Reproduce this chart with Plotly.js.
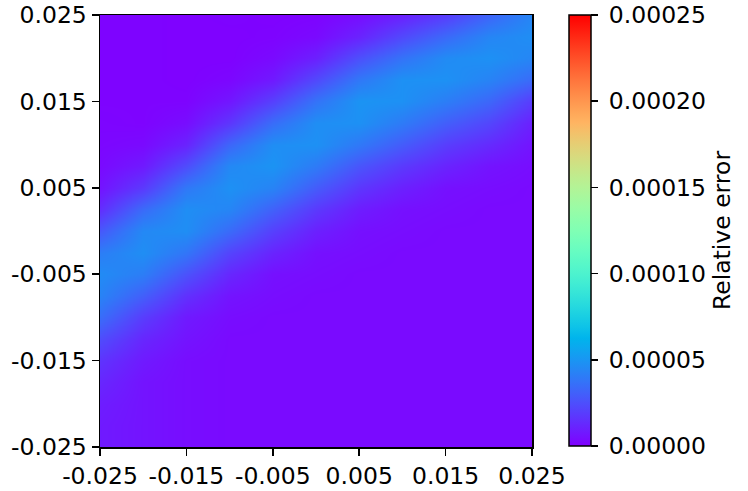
<!DOCTYPE html>
<html>
<head>
<meta charset="utf-8">
<script src="https://cdn.plot.ly/plotly-3.0.1.min.js"></script>
<style>
  html, body { margin: 0; padding: 0; background: #fff; }
  #chart { width: 748px; height: 491px; }
</style>
</head>
<body>
<div id="chart"></div>
<script>
// grid positions
const xs = [-0.025, -0.02, -0.015, -0.01, -0.005, 0, 0.005, 0.01, 0.015, 0.02, 0.025];
const ys = [-0.025, -0.0225, -0.02, -0.0175, -0.015, -0.0125, -0.01, -0.0075, -0.005, -0.0025, 0,
            0.0025, 0.005, 0.0075, 0.01, 0.0125, 0.015, 0.0175, 0.02, 0.0225, 0.025];

// relative error, in units of 1e-5, one row per y value (bottom to top), one column per x
const errRows = [
  [0.8, 0.6, 0.4, 0.3, 0.3, 0.3, 0.3, 0.3, 0.3, 0.3, 0.3],
  [0.8, 0.6, 0.4, 0.3, 0.3, 0.3, 0.3, 0.3, 0.3, 0.3, 0.3],
  [0.9, 0.6, 0.4, 0.3, 0.3, 0.3, 0.3, 0.3, 0.3, 0.3, 0.3],
  [1.2, 0.6, 0.4, 0.3, 0.3, 0.3, 0.3, 0.3, 0.3, 0.3, 0.3],
  [1.6, 0.8, 0.4, 0.3, 0.3, 0.3, 0.3, 0.3, 0.3, 0.3, 0.3],
  [2.4, 1.2, 0.6, 0.3, 0.3, 0.3, 0.3, 0.3, 0.3, 0.3, 0.3],
  [3.5, 1.9, 0.8, 0.4, 0.3, 0.3, 0.3, 0.3, 0.3, 0.3, 0.3],
  [4.3, 3.0, 1.5, 0.6, 0.4, 0.3, 0.3, 0.3, 0.3, 0.3, 0.3],
  [4.6, 4.1, 2.6, 1.2, 0.5, 0.4, 0.3, 0.3, 0.3, 0.3, 0.3],
  [4.1, 4.7, 3.8, 2.1, 1.1, 0.5, 0.4, 0.3, 0.3, 0.3, 0.3],
  [2.8, 4.5, 4.7, 3.4, 2.0, 1.0, 0.5, 0.4, 0.3, 0.3, 0.3],
  [1.4, 3.4, 4.7, 4.4, 3.1, 1.8, 0.9, 0.5, 0.4, 0.3, 0.3],
  [0.6, 1.8, 3.9, 4.8, 4.3, 2.9, 1.7, 1.0, 0.5, 0.4, 0.3],
  [0.3, 0.8, 2.4, 4.5, 4.9, 4.0, 2.7, 1.8, 1.1, 0.6, 0.4],
  [0.2, 0.3, 1.1, 3.3, 4.7, 4.8, 3.9, 2.9, 1.9, 1.3, 0.6],
  [0.15, 0.1, 0.4, 1.7, 3.5, 4.7, 4.8, 4.0, 3.0, 2.2, 1.0],
  [0.1, 0.1, 0.1, 0.7, 2.0, 3.7, 4.9, 4.8, 4.1, 3.3, 1.9],
  [0.1, 0.1, 0.05, 0.2, 0.8, 2.3, 3.9, 4.8, 4.8, 4.3, 3.4],
  [0.1, 0.1, 0.05, 0.05, 0.3, 1.0, 2.5, 3.7, 4.6, 4.8, 4.4],
  [0.1, 0.1, 0.05, 0.05, 0.1, 0.3, 1.1, 2.3, 3.4, 4.4, 4.7],
  [0.1, 0.1, 0.05, 0.1, 0.05, 0.1, 0.4, 1.0, 1.9, 3.2, 4.4]
];

const axisTicks = [-0.025, -0.015, -0.005, 0.005, 0.015, 0.025];
const axisLabels = ['-0.025', '-0.015', '-0.005', '0.005', '0.015', '0.025'];
const cbTicks = [0, 0.00005, 0.0001, 0.00015, 0.0002, 0.00025];
const cbLabels = ['0.00000', '0.00005', '0.00010', '0.00015', '0.00020', '0.00025'];

// matplotlib "rainbow" colormap
function rainbow(n) {
  let scale = [];
  for (let i = 0; i <= n; i++) {
    let t = i / n;
    let r = Math.min(1, Math.abs(2 * t - 0.5));
    let g = Math.sin(Math.PI * t);
    let b = Math.max(0, Math.cos(Math.PI * t / 2));
    scale.push([t, `rgb(${Math.round(r * 255)},${Math.round(g * 255)},${Math.round(b * 255)})`]);
  }
  return scale;
}

const font = {family: 'DejaVu Sans', size: 23.5, color: '#000'};

const trace = {
  type: 'heatmap',
  x: xs,
  y: ys,
  z: errRows.map(row => row.map(v => v * 1e-5)),
  zmin: 0,
  zmax: 0.00025,
  zsmooth: 'best',
  colorscale: rainbow(40),
  hoverinfo: 'skip',
  colorbar: {
    thickness: 22,
    thicknessmode: 'pixels',
    len: 431,
    lenmode: 'pixels',
    x: 1.083,
    xanchor: 'left',
    y: 1,
    yanchor: 'top',
    xpad: 0,
    ypad: 0,
    outlinewidth: 1.5,
    outlinecolor: '#000',
    tickvals: cbTicks,
    // small leading space: matplotlib leaves a wider pad between tick and label
    ticktext: cbLabels.map(s => '\u2005' + s),
    ticks: 'outside',
    ticklen: 7,
    tickwidth: 1.5,
    tickcolor: '#000',
    tickfont: font,
    title: {text: 'Relative error', side: 'right', font: font}
  }
};

const axisStyle = {
  range: [-0.025, 0.025],
  tickvals: axisTicks,
  ticktext: axisLabels,
  ticks: 'outside',
  ticklen: 7,
  tickwidth: 1.5,
  tickcolor: '#000',
  tickfont: font,
  showline: true,
  mirror: true,
  linecolor: '#000',
  linewidth: 1.5,
  showgrid: false,
  zeroline: false
};

const layout = {
  width: 748,
  height: 491,
  margin: {l: 100, r: 215, t: 15, b: 44},
  paper_bgcolor: '#fff',
  plot_bgcolor: '#fff',
  xaxis: Object.assign({}, axisStyle),
  yaxis: Object.assign({}, axisStyle),
  font: font
};

Plotly.newPlot('chart', [trace], layout, {staticPlot: true, displayModeBar: false});
</script>
</body>
</html>
